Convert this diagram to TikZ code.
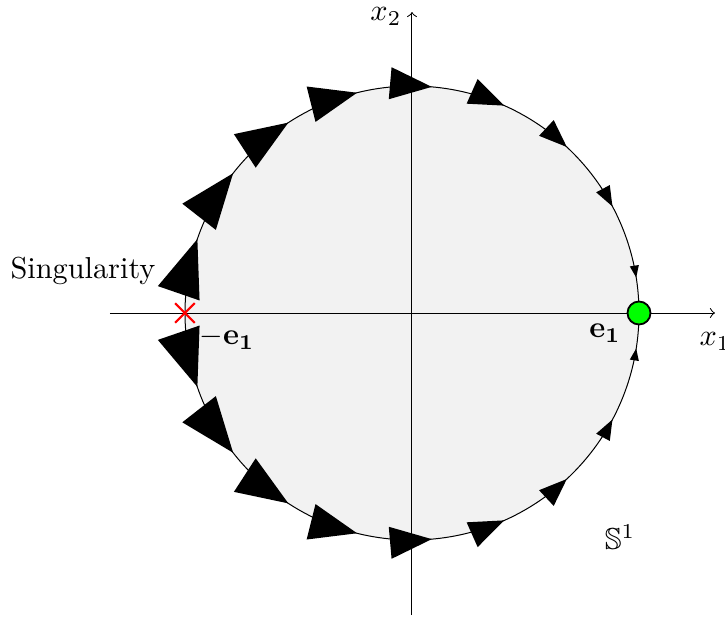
\documentclass[tikz,border=0pt]{standalone}
\usepackage{amssymb}
\usetikzlibrary{shapes.misc}
\begin{document}
\begin{tikzpicture}[x=0.33pt,y=0.33pt,line width=0.33pt,
    flowtip/.style={fill=black},
    fixpt/.style={circle,draw=black,fill=green,line width=0.6pt,minimum size=7.6pt,inner sep=0pt},
    singpt/.style={cross out,draw=red,line width=0.7pt,minimum size=5.8pt,inner sep=0pt}]
    \useasboundingbox (-412,-306) rectangle (313,313);
    % disc and circle
    \filldraw[fill=black!5,draw=black] (0,0) circle (227);
    % axes
    \coordinate (xs) at (-302,0);
    \coordinate (xe) at (303,0);
    \coordinate (ys) at (0,-302);
    \coordinate (ye) at (0,301);
    \draw[->] (xs) -- (xe) node[below=3pt] {$x_1$};
    \draw[->] (ys) -- (ye) node[left,yshift=-1.5pt] {$x_2$};
    % flow arrows along the circle
    \foreach \a in {9,28,...,161} {
        \pgfmathsetmacro\l{8+50*sin(\a/2)}
        \fill[flowtip,rotate=\a] (227,0) -- (227+0.385*\l,\l) -- (227-0.385*\l,\l) -- cycle;
        \fill[flowtip,rotate=-\a] (227,0) -- (227+0.385*\l,-\l) -- (227-0.385*\l,-\l) -- cycle;
    }
    % special points
    \node[fixpt] (e) at (227,0) {};
    \node[singpt] (s) at (-227,0) {};
    \node at (-329,42) {Singularity};
    \node at (-185,-25) {$-\mathbf{e_1}$};
    \node at (193,-20) {$\mathbf{e_1}$};
    \node at (208,-224) {$\mathbb{S}^1$};
\end{tikzpicture}
\end{document}
